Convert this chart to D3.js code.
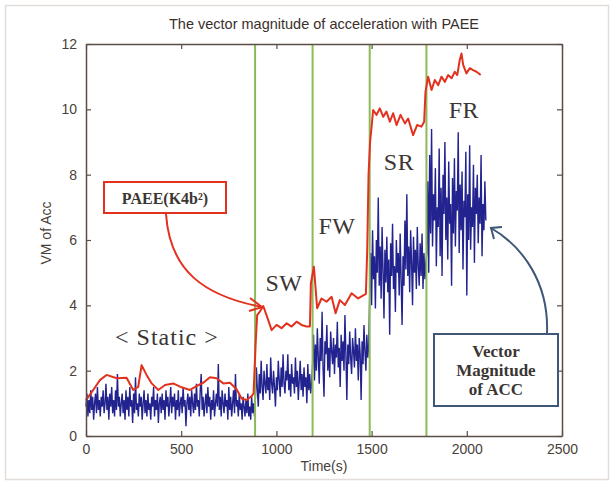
<!DOCTYPE html>
<html>
<head>
<meta charset="utf-8">
<script src="https://cdn.jsdelivr.net/npm/d3@7"></script>
<style>
  body { margin: 0; background: #fff; }
  svg { display: block; }
</style>
</head>
<body>
<svg id="chart" width="614" height="484"></svg>
<script>
// VM of acceleration, sampled every 5 s, one array per activity
const sampleStep = 5;
const vmStatic = [
  0.9,1.3,0.6,1.1,0.7,1.4,0.8,1.2,0.5,1.0,1.3,0.7,1.5,0.8,1.1,0.6,1.2,0.9,1.4,0.7,
  1.0,1.6,0.8,1.2,0.5,1.3,0.9,1.5,0.7,1.1,0.6,1.4,0.8,1.9,0.9,1.2,0.6,1.0,1.3,0.7,
  1.1,0.5,1.4,0.8,1.2,0.6,1.5,0.9,1.1,0.4,1.3,0.7,1.8,0.8,1.0,0.6,1.3,0.9,1.2,0.5,
  1.0,1.4,0.7,1.1,0.6,1.3,0.8,1.0,0.5,1.2,0.9,1.5,0.6,1.1,0.8,1.3,0.4,1.0,1.2,0.7,
  1.3,0.8,1.1,0.5,1.4,0.9,1.2,0.6,1.0,1.5,0.7,1.2,0.9,1.3,0.5,1.1,0.8,1.4,0.6,1.0,
  1.2,0.7,1.5,0.9,1.1,0.3,1.0,1.3,0.8,1.2,0.6,1.4,1.0,0.7,1.3,0.8,1.6,0.9,1.1,0.6,
  1.4,1.9,0.8,1.2,0.6,1.0,1.3,0.7,1.5,0.9,1.2,0.5,1.1,0.8,1.4,0.6,1.0,1.3,0.9,2.2,
  0.8,1.2,0.6,1.4,1.0,0.7,1.3,0.9,1.1,0.5,1.5,0.8,1.2,0.6,1.0,1.4,0.7,1.9,0.9,1.1,
  0.6,1.3,0.8,1.0,0.5,1.2,0.9,0.6,1.1,0.7,1.3,0.6,0.9,0.5,1.2,0.7,1.0,0.6
];
const vmSW = [
  1.2,2.1,1.4,0.9,1.9,1.3,2.3,1.5,1.1,2.0,1.6,1.3,2.2,1.4,1.8,1.1,2.4,1.6,1.3,2.0,
  1.5,0.9,1.8,1.4,2.3,1.7,1.2,2.1,1.5,2.5,1.6,1.3,2.0,1.7,2.5,1.4,1.9,1.2,2.2,1.6,
  1.8,1.3,2.4,1.5,2.0,1.1,1.7,2.3,1.4,1.9,1.2,2.1,1.5,1.8,1.0,2.2,1.4,1.9,1.3,1.6
];
const vmFW = [
  2.2,3.1,1.7,2.8,2.0,3.3,2.4,1.6,3.0,2.3,3.8,2.1,1.2,2.9,2.5,3.4,2.0,2.7,1.8,3.2,
  2.6,2.2,3.0,1.9,2.8,2.4,3.5,2.1,2.7,1.5,3.1,2.3,2.9,2.0,3.7,2.5,1.1,2.8,2.2,3.2,
  2.4,1.9,3.0,2.6,2.1,3.3,2.3,2.8,1.7,3.0,2.5,1.1,2.9,2.2,3.4,2.6,2.0,3.1,2.4,2.8
];
const vmSR = [
  4.3,5.6,4.0,6.3,4.8,5.5,3.9,6.0,5.0,7.3,4.6,5.8,4.2,6.4,5.1,3.6,5.7,4.7,6.1,4.4,
  5.4,3.1,5.9,4.9,6.5,4.5,5.2,3.8,6.0,5.0,5.6,4.3,6.2,4.8,3.4,5.5,4.6,6.6,5.1,7.4,
  4.9,5.8,4.4,6.3,5.3,4.0,6.1,5.0,5.7,4.5,6.4,5.2,4.6,5.9,4.9,6.2,4.5,5.6,4.8,5.3
];
const vmFR = [
  5.6,7.8,5.0,8.6,6.2,9.4,5.8,7.4,6.6,8.2,5.2,7.0,6.4,8.8,5.5,7.6,4.9,8.0,6.8,9.0,
  6.0,7.3,5.4,8.4,6.5,7.1,4.6,7.9,6.2,8.5,5.8,7.5,6.9,9.3,5.6,7.7,6.3,8.1,5.1,7.2,
  6.7,8.7,4.3,7.4,6.0,8.9,5.7,7.0,6.4,8.3,5.3,7.6,6.8,8.0,5.9,7.3,6.5,8.6,5.5,7.1,
  6.3,7.8,6.6
];
const segmentStarts = [0, 890, 1190, 1490, 1790];

// PAEE (K4b2) line
const paeeTime = [0,38,73,108,161,213,248,274,292,318,345,380,415,458,502,546,581,616,651,686,
  721,756,791,817,843,870,880,891,899,913,931,948,975,1001,1027,1054,1080,1106,1132,1158,
  1176,1181,1197,1214,1237,1263,1290,1311,1333,1360,1395,1429,1459,1470,1477,1484,1492,1500,1508,1526,
  1543,1561,1578,1596,1613,1631,1652,1675,1692,1718,1739,1762,1776,1783,1797,1815,1832,1850,1867,1885,
  1902,1920,1937,1950,1963,1972,1981,1998,2016,2033,2051,2073];
const paeeValue = [1.1,1.41,1.71,1.87,1.77,1.78,1.41,1.5,2.17,1.87,1.61,1.41,1.56,1.61,1.49,1.41,1.53,1.63,1.8,1.77,
  1.61,1.63,1.43,1.15,1.1,1.22,1.3,2.84,3.7,3.81,3.98,3.7,3.24,3.4,3.3,3.45,3.35,3.5,3.4,3.35,
  3.35,4.67,5.18,3.91,4.21,4.11,4.26,3.76,4.16,4.01,4.37,4.21,4.31,4.35,5.69,8.0,9.0,9.47,9.98,9.83,
  10.03,9.77,9.93,9.62,9.88,9.52,9.83,9.57,9.72,9.21,9.52,9.47,9.62,10.54,11.0,10.59,10.9,10.74,11.0,10.84,
  11.05,10.95,11.15,11.05,11.51,11.71,11.36,11.1,11.26,11.2,11.15,11.05];

// activity boundaries and labels
const boundaries = [888, 1190, 1490, 1788];
const activityNames = ["< Static >", "SW", "FW", "SR", "FR"];
const activityTime = [425, 1040, 1318, 1644, 1985];
const activityLevel = [2.8, 4.45, 6.18, 8.14, 9.73];

const xTicks = [0, 500, 1000, 1500, 2000, 2500];
const yTicks = [0, 2, 4, 6, 8, 10, 12];

const svg = d3.select("#chart");
const m = {left: 86, right: 562, top: 44, bottom: 436};
const axisCol = "#5b4d46", textCol = "#4a3f3a";

const x = d3.scaleLinear().domain([0, 2500]).range([m.left, m.right]);
const y = d3.scaleLinear().domain([0, 12]).range([m.bottom, m.top]);

// faint outer frame of the figure
svg.append("rect").attr("x", 5.5).attr("y", 5.5).attr("width", 603).attr("height", 474)
  .attr("fill", "none").attr("stroke", "#e2ddd8").attr("stroke-width", 1.5);

const vmPoints = [];
[vmStatic, vmSW, vmFW, vmSR, vmFR].forEach((arr, k) => {
  arr.forEach((v, i) => vmPoints.push([segmentStarts[k] + i*sampleStep, v]));
});
const paeePoints = paeeTime.map((t, i) => [t, paeeValue[i]]);

const line = d3.line().x(d => x(d[0])).y(d => y(d[1]));

svg.append("path").datum(vmPoints).attr("d", line)
  .attr("fill", "none").attr("stroke", "#22238f").attr("stroke-width", 1.4)
  .attr("stroke-linejoin", "miter");

svg.selectAll(".bound").data(boundaries).join("line")
  .attr("x1", d => x(d)).attr("x2", d => x(d))
  .attr("y1", m.top).attr("y2", m.bottom)
  .attr("stroke", "#8dba58").attr("stroke-width", 2);

svg.append("path").datum(paeePoints).attr("d", line)
  .attr("fill", "none").attr("stroke", "#e2321f").attr("stroke-width", 2)
  .attr("stroke-linejoin", "round");

// axes, MATLAB style box with inward ticks
const ax = svg.append("g");
const fmt = d3.format("d");

const axBottom = d3.axisBottom(x).tickValues(xTicks).tickFormat(fmt).tickSizeInner(-5).tickSizeOuter(0).tickPadding(8);
const axTop = d3.axisTop(x).tickValues(xTicks).tickSizeInner(-5).tickSizeOuter(0).tickFormat("");
const axLeft = d3.axisLeft(y).tickValues(yTicks).tickFormat(fmt).tickSizeInner(-5).tickSizeOuter(0).tickPadding(9);
const axRight = d3.axisRight(y).tickValues(yTicks).tickSizeInner(-5).tickSizeOuter(0).tickFormat("");

[[axBottom, `translate(0,${m.bottom})`], [axTop, `translate(0,${m.top})`],
 [axLeft, `translate(${m.left},0)`], [axRight, `translate(${m.right},0)`]].forEach(([a, tr]) => {
  const g = ax.append("g").attr("transform", tr).call(a);
  g.select(".domain").attr("stroke", axisCol).attr("stroke-width", 1.5);
  g.selectAll(".tick line").attr("stroke", axisCol).attr("stroke-width", 1.2);
  g.selectAll(".tick text").attr("fill", textCol).attr("font-size", 14)
    .attr("font-family", "Liberation Sans, Arial, sans-serif");
});

svg.append("text").attr("x", (m.left + m.right)/2).attr("y", 29)
  .attr("text-anchor", "middle").attr("font-family", "Liberation Sans, Arial, sans-serif")
  .attr("font-size", 14.5).attr("fill", "#3a302c")
  .text("The vector magnitude of acceleration with PAEE");

svg.append("text").attr("x", (m.left + m.right)/2).attr("y", 471)
  .attr("text-anchor", "middle").attr("font-family", "Liberation Sans, Arial, sans-serif")
  .attr("font-size", 14).attr("fill", textCol).text("Time(s)");

svg.append("text").attr("transform", "translate(51,233) rotate(-90)")
  .attr("text-anchor", "middle").attr("font-family", "Liberation Sans, Arial, sans-serif")
  .attr("font-size", 14).attr("fill", textCol).text("VM of Acc");

// activity labels
svg.selectAll(".act").data(activityNames).join("text")
  .attr("x", (d, i) => x(activityTime[i])).attr("y", (d, i) => y(activityLevel[i]))
  .attr("text-anchor", "middle").attr("font-family", "Liberation Serif, Times New Roman, serif")
  .attr("font-size", 24).attr("letter-spacing", (d, i) => i === 0 ? 1 : 0.5)
  .attr("fill", "#3b3633")
  .text(d => d);

// PAEE call-out
svg.append("rect").attr("x", 104).attr("y", 182).attr("width", 122).attr("height", 31)
  .attr("fill", "#fff").attr("stroke", "#e2321f").attr("stroke-width", 2);
svg.append("text").attr("x", 165).attr("y", 203.5).attr("text-anchor", "middle")
  .attr("font-family", "Liberation Serif, Times New Roman, serif").attr("font-weight", "bold")
  .attr("font-size", 16).attr("fill", "#3b3633").text("PAEE(K4b²)");
svg.append("path").attr("d", "M166,214 C170,272 205,296 262,307")
  .attr("fill", "none").attr("stroke", "#e2321f").attr("stroke-width", 2);
svg.append("path").attr("d", "M250,298 L262,307 L249,311")
  .attr("fill", "none").attr("stroke", "#e2321f").attr("stroke-width", 2);

// VM call-out
svg.append("rect").attr("x", 434).attr("y", 334).attr("width", 124).attr("height", 72)
  .attr("fill", "#fff").attr("stroke", "#3f5878").attr("stroke-width", 2);
["Vector", "Magnitude", "of ACC"].forEach((s, i) => {
  svg.append("text").attr("x", 496).attr("y", 357 + i*19).attr("text-anchor", "middle")
    .attr("font-family", "Liberation Serif, Times New Roman, serif").attr("font-weight", "bold")
    .attr("font-size", 17).attr("fill", "#3b3633").text(s);
});
svg.append("path").attr("d", "M547,333 C549,282 522,246 491,228")
  .attr("fill", "none").attr("stroke", "#3f5878").attr("stroke-width", 2);
svg.append("path").attr("d", "M494,239 L491,228 L502,227")
  .attr("fill", "none").attr("stroke", "#3f5878").attr("stroke-width", 2);
</script>
</body>
</html>
